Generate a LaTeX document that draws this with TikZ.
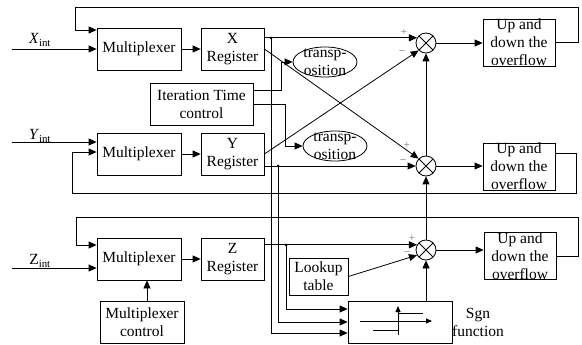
\documentclass[tikz,border=0pt]{standalone}
\usepackage{fontspec}
\setmainfont{Liberation Serif}
\usetikzlibrary{arrows.meta,shapes.geometric}
\begin{document}
\begin{tikzpicture}[x=1pt,y=-1pt,
  line width=0.8pt,
  every node/.style={font=\fontsize{15.5}{18}\selectfont},
  blk/.style={draw, inner sep=1pt, align=center, minimum height=42pt},
  upbox/.style={draw, minimum width=72pt, minimum height=47pt,
    label={[align=center]center:Up and\\down the\\overflow}},
  ell/.style={ellipse, draw, inner sep=0pt, minimum width=64pt, minimum height=30pt,
    label={[align=center]center:transp-\\osition}},
  summer/.style={circle, draw, minimum size=20pt, inner sep=0pt,
    path picture={\draw (path picture bounding box.south west) -- (path picture bounding box.north east)
                        (path picture bounding box.north west) -- (path picture bounding box.south east);}},
  arr/.style={-{Triangle[length=8pt,width=7pt]}},
  arrsmall/.style={-{Triangle[length=6pt,width=5pt]}},
  pm/.style={font=\fontsize{11}{11}\selectfont, text=black!55, inner sep=0pt},
  dot/.style={circle, fill, inner sep=0pt, minimum size=3pt}]
\useasboundingbox (0,0) rectangle (582,345);

% ---- X channel ----
\node[blk, minimum width=84pt] (muxX) at (139,49) {Multiplexer};
\node[blk, minimum width=63pt] (regX) at (232.5,49) {X\\Register};
\node[summer] (sumX) at (426,43) {};
\node[upbox] (upX) at (519,42.5) {};
\node[ell] (ellX) at (325,62) {};
\node (labX) at (40,40) {\textit{X}\textsubscript{int}};

% ---- Y channel ----
\node[blk, minimum width=84pt] (muxY) at (139,154) {Multiplexer};
\node[blk, minimum width=63pt] (regY) at (232.5,154) {Y\\Register};
\node[summer] (sumY) at (426,166) {};
\node[upbox] (upY) at (519,166.5) {};
\node[ell] (ellY) at (335,146) {};
\node (labY) at (40,136) {\textit{Y}\textsubscript{int}};

% ---- Z channel ----
\node[blk, minimum width=84pt] (muxZ) at (139,259) {Multiplexer};
\node[blk, minimum width=63pt] (regZ) at (232.5,259) {Z\\Register};
\node[summer] (sumZ) at (426,250) {};
\node[upbox] (upZ) at (520,256) {};
\node (labZ) at (40,261) {Z\textsubscript{int}};

% ---- control and auxiliary blocks ----
\node[blk, minimum width=103pt] (itc) at (201.5,104) {Iteration Time\\control};
\node[blk, minimum width=59pt, minimum height=37pt] (lut) at (318.5,276.5) {Lookup\\table};
\node[blk, minimum width=104pt] (sgn) at (400,322) {};
\node[align=center] (sgnlab) at (478,322) {Sgn\\function};
\node[blk, minimum width=84pt] (mctl) at (142,322) {Multiplexer\\control};

% signum symbol inside the Sgn block
\draw[arrsmall] (360,321) -- (432,321);
\draw[arrsmall] (398,335) -- (398,306);
\draw (398,313) -- (423,313);
\draw (373,330) -- (398,330);

% ---- inputs ----
\coordinate (inX) at (12,49);
\coordinate (inY) at (12,142);
\coordinate (inZ) at (12,268);
\draw[arr] (inX) -- (muxX.west |- inX);
\draw[arr] (inY) -- (muxY.west |- inY);
\draw[arr] (inZ) -- (muxZ.west |- inZ);

% ---- multiplexer to register ----
\draw[arr] (muxX) -- (regX);
\draw[arr] (muxY) -- (regY);
\draw[arr] (muxZ) -- (regZ);
\draw[arr] ([xshift=5pt]mctl.north) -- ([xshift=5pt]mctl.north |- muxZ.south);

% ---- feedback loops ----
\coordinate (lX1) at (578,7);
\coordinate (lX2) at (75,30);
\draw[arr] (upX.east) -| (lX1) -| (lX2) -- (muxX.west |- lX2);
\coordinate (lY0) at (555,153);
\coordinate (lY1) at (576,193);
\coordinate (lY2) at (72,152);
\draw[arr] (lY0) -| (lY1) -| (lY2) -- (muxY.west |- lY2);
\coordinate (lZ1) at (578,217);
\coordinate (lZ2) at (76,245);
\draw[arr] (upZ.east) -| (lZ1) -| (lZ2) -- (muxZ.west |- lZ2);

% ---- register outputs to the summers ----
\coordinate (dX) at (271,38);
\coordinate (dY) at (278,166);
\coordinate (dZ) at (286,245);
\draw[arr] (regX.east |- sumX.150) -- (sumX.150);
\draw[arr] (regY.east |- sumY.west) -- (sumY.west);
\draw[arr] (regZ.east |- sumZ.150) -- (sumZ.150);
\draw[arr] (regX.east) -- (sumY.135);
\draw[arr] (regY.east) -- (sumX.225);
\draw[arr] (lut.east) -- (sumZ.210);

% ---- taps to the Sgn block ----
\draw[arr] (dX) |- ([yshift=-11pt]sgn.west);
\draw[arr] (dY) |- (sgn.west);
\draw[arr] (dZ) |- ([yshift=13pt]sgn.west);
\node[dot] at (dX) {};
\node[dot] at (dY) {};
\node[dot] at (dZ) {};

% ---- iteration time control ----
\coordinate (tA) at (281,62);
\coordinate (tB) at (285,146);
\draw[arr] ([yshift=14pt]itc.east) -| (tA) -- (ellX.west);
\draw[arr] (itc.east) -| (tB) -- (ellY.west);

% ---- summer chain ----
\draw[arr] (sumZ.south |- sgn.north) -- (sumZ.south);
\draw[arr] (sumZ.north) -- (sumY.south);
\draw[arr] (sumY.north) -- (sumX.south);
\draw[arr] (sumX.east) -- (sumX.east -| upX.west);
\draw[arr] (sumY.east) -- (sumY.east -| upY.west);
\draw[arr] (sumZ.east) -- (sumZ.east -| upZ.west);

% ---- signs ----
\node[pm] at (404,32) {+};
\node[pm] at (402,52) {\textendash};
\node[pm] at (407,145) {+};
\node[pm] at (403,161) {\textendash};
\node[pm] at (412,238) {+};
\node[pm] at (407,253) {\textendash};
\end{tikzpicture}
\end{document}
